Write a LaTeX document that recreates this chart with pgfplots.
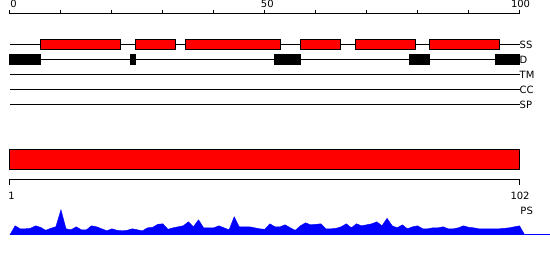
\documentclass[border=0pt]{standalone}
\usepackage{pgfplots}
\usepackage{pgfplotstable}
\pgfplotsset{compat=1.18}
\usepackage{fontspec}
\setmainfont{DejaVu Sans}
\pgfplotstableread{
i h
0 0
1 9
2 6
3 6
4 6.5
5 9
6 7.5
7 4.5
8 6.5
9 8
10 25
11 6
12 5
13 8
14 5
15 5
16 9
17 8
18 6
19 4
20 6
21 4.5
22 4
23 4.5
24 6
25 5
26 4
27 7
28 7.5
29 10.5
30 11
31 5.5
32 7
33 8
34 9
35 13
36 8
37 15
38 7
39 7
40 7
41 9
42 7
43 5
44 18
45 8
46 8
47 8
48 7
49 6
50 5.5
51 11
52 8
53 8
54 10
55 7
56 4.5
57 9
58 12
59 10
60 10.5
61 11
62 6
63 6
64 6.5
65 8
66 11
67 7
68 11
69 9
70 10
71 11
72 13
73 9
74 16.5
75 9
76 7
77 10
78 6
79 8
80 9
81 6
82 6
83 7
84 7
85 8
86 6
87 6
88 7
89 9
90 7.5
91 7
92 6
93 6
94 6
95 6
96 6
97 6.5
98 7
99 8
100 9
101 0
}\profile
\begin{document}
\begin{tikzpicture}[lab/.style={inner sep=0pt, font=\fontsize{10}{12}\selectfont}]
\begin{axis}[
  scale only axis, width=550pt, height=260pt,
  xmin=-1.960784, xmax=105.882353, ymin=0, ymax=260,
  axis lines=none, clip=false,
]
\path (rel axis cs:0,0) rectangle (rel axis cs:1,1);
% top scale
\addplot[black, line width=1pt] coordinates {(0,246) (100,246)};
\pgfplotsinvokeforeach{0,10,...,100}{
  \addplot[black, line width=1pt] coordinates {(#1,246) (#1,250)};
}
\node[lab, anchor=base] at (axis cs:0.7,252) {0};
\node[lab, anchor=base] at (axis cs:50.5,252) {50};
\node[lab, anchor=base] at (axis cs:100.2,252) {100};
% track lines
\addplot[black, line width=1pt] coordinates {(0,215) (100,215)};
\addplot[black, line width=1pt] coordinates {(0,200) (100,200)};
\addplot[black, line width=1pt] coordinates {(0,185) (100,185)};
\addplot[black, line width=1pt] coordinates {(0,170) (100,170)};
\addplot[black, line width=1pt] coordinates {(0,155) (100,155)};
% SS boxes
\addplot[fill=red, draw=black, line width=1pt] coordinates {(6.0,210) (21.6,210) (21.6,220) (6.0,220)} -- cycle;
\addplot[fill=red, draw=black, line width=1pt] coordinates {(24.6,210) (32.5,210) (32.5,220) (24.6,220)} -- cycle;
\addplot[fill=red, draw=black, line width=1pt] coordinates {(34.4,210) (53.0,210) (53.0,220) (34.4,220)} -- cycle;
\addplot[fill=red, draw=black, line width=1pt] coordinates {(57.0,210) (64.8,210) (64.8,220) (57.0,220)} -- cycle;
\addplot[fill=red, draw=black, line width=1pt] coordinates {(67.8,210) (79.5,210) (79.5,220) (67.8,220)} -- cycle;
\addplot[fill=red, draw=black, line width=1pt] coordinates {(82.4,210) (96.1,210) (96.1,220) (82.4,220)} -- cycle;
% D boxes
\addplot[fill=black, draw=black, line width=1pt] coordinates {(0,195) (6.0,195) (6.0,205) (0,205)} -- cycle;
\addplot[fill=black, draw=black, line width=1pt] coordinates {(23.6,195) (24.6,195) (24.6,205) (23.6,205)} -- cycle;
\addplot[fill=black, draw=black, line width=1pt] coordinates {(52.0,195) (57.0,195) (57.0,205) (52.0,205)} -- cycle;
\addplot[fill=black, draw=black, line width=1pt] coordinates {(78.5,195) (82.4,195) (82.4,205) (78.5,205)} -- cycle;
\addplot[fill=black, draw=black, line width=1pt] coordinates {(95.2,195) (100,195) (100,205) (95.2,205)} -- cycle;
% track labels
\node[lab, anchor=base west] at (axis cs:100,211) {SS};
\node[lab, anchor=base west] at (axis cs:100,196) {D};
\node[lab, anchor=base west] at (axis cs:100,181) {TM};
\node[lab, anchor=base west] at (axis cs:100,166) {CC};
\node[lab, anchor=base west] at (axis cs:100,151) {SP};
% bottom bar
\addplot[fill=red, draw=black, line width=1pt] coordinates {(0,90) (100,90) (100,110) (0,110)} -- cycle;
\addplot[black, line width=1pt] coordinates {(0,75) (0,80) (100,80) (100,75)};
\node[lab, anchor=base] at (axis cs:0.3,60) {1};
\node[lab, anchor=base] at (axis cs:100.1,60) {102};
\node[lab, anchor=base] at (axis cs:101.4,45) {PS};
% profile
\addplot[fill=blue, draw=blue, line width=0.4pt] table[x=i, y expr=25+\thisrow{h}] {\profile} -- cycle;
\addplot[blue, line width=1pt] coordinates {(101,25) (105.88,25)};
\end{axis}
\end{tikzpicture}
\end{document}
